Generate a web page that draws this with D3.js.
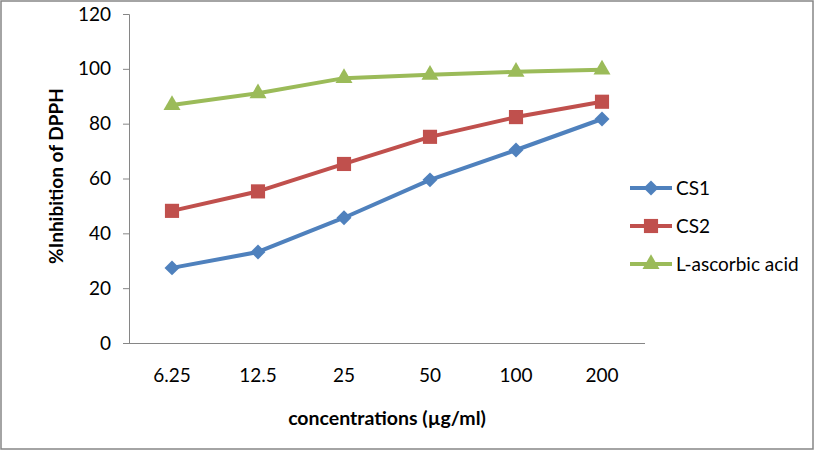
<!DOCTYPE html>
<html>
<head>
<meta charset="utf-8">
<script src="https://cdn.jsdelivr.net/npm/d3@7"></script>
<style>
  body { margin: 0; background: #fff; }
  text { font-family: Lato, "Open Sans", sans-serif; fill: #000; }
</style>
</head>
<body>
<svg id="chart" width="815" height="451"></svg>
<script>
// chart data
var categories = ['6.25', '12.5', '25', '50', '100', '200'];
var cs1 = [27.4, 33.2, 45.7, 59.5, 70.4, 81.7];
var cs2 = [48.2, 55.3, 65.3, 75.2, 82.4, 88.0];
var ascorbic = [86.8, 91.1, 96.6, 97.8, 98.9, 99.7];
var yTicks = [0, 20, 40, 60, 80, 100, 120];

var series = [
    {name: 'CS1', values: cs1, color: '#4F81BD', marker: 'diamond'},
    {name: 'CS2', values: cs2, color: '#C0504D', marker: 'square'},
    {name: 'L-ascorbic acid', values: ascorbic, color: '#9BBB59', marker: 'triangle'}
];

var svg = d3.select('#chart');

// outer frame
svg.append('rect')
    .attr('x', 1).attr('y', 1)
    .attr('width', 812).attr('height', 448)
    .attr('fill', 'none')
    .attr('stroke', '#868686')
    .attr('stroke-width', 1.5);

var xScale = d3.scaleBand()
    .domain(categories)
    .range([129, 645]);

var yScale = d3.scaleLinear()
    .domain([0, 120])
    .range([343, 14]);

// y axis
var yAxis = svg.append('g')
    .attr('transform', 'translate(129,0)')
    .call(d3.axisLeft(yScale).tickValues(yTicks).tickSize(6).tickPadding(12));
yAxis.select('.domain').attr('stroke', '#868686');
yAxis.selectAll('.tick line').attr('stroke', '#868686');
yAxis.selectAll('.tick text')
    .style('font-family', 'Lato, sans-serif')
    .style('font-size', '19px')
    .attr('fill', '#000');

// x axis
var xAxis = svg.append('g')
    .attr('transform', 'translate(0,343)')
    .call(d3.axisBottom(xScale).tickSize(0).tickPadding(26));
xAxis.select('.domain').attr('d', 'M123,0.5H645').attr('stroke', '#868686');
xAxis.selectAll('.tick text')
    .style('font-family', 'Lato, sans-serif')
    .style('font-size', '19px')
    .attr('fill', '#000');

// axis titles
svg.append('text')
    .attr('transform', 'translate(63,176) rotate(-90)')
    .attr('text-anchor', 'middle')
    .style('font-size', '19px')
    .style('font-weight', 'bold')
    .text('%Inhibition of DPPH');

svg.append('text')
    .attr('x', 387).attr('y', 425)
    .attr('text-anchor', 'middle')
    .style('font-size', '19.5px')
    .style('font-weight', 'bold')
    .text('concentrations (µg/ml)');

function markerPath(type) {
    if (type === 'square') return d3.symbol().type(d3.symbolSquare).size(200)();
    if (type === 'triangle') return d3.symbol().type(d3.symbolTriangle).size(125)();
    return d3.symbol().type(d3.symbolSquare).size(112)();
}
function markerRotate(type) {
    return type === 'diamond' ? ' rotate(45)' : '';
}

var cx = function(i) { return xScale(categories[i]) + xScale.bandwidth() / 2; };

var line = d3.line()
    .x(function(d, i) { return cx(i); })
    .y(function(d) { return yScale(d); });

series.forEach(function(s) {
    svg.append('path')
        .datum(s.values)
        .attr('d', line)
        .attr('fill', 'none')
        .attr('stroke', s.color)
        .attr('stroke-width', 4)
        .attr('stroke-linejoin', 'round');

    svg.selectAll('.m-' + s.marker)
        .data(s.values)
        .join('path')
        .attr('class', 'm-' + s.marker)
        .attr('d', markerPath(s.marker))
        .attr('transform', function(d, i) {
            return 'translate(' + cx(i) + ',' + yScale(d) + ')' + markerRotate(s.marker);
        })
        .attr('fill', s.color);
});

// legend
var legend = svg.append('g');
series.forEach(function(s, i) {
    var y = 188 + i * 38;
    legend.append('line')
        .attr('x1', 630).attr('x2', 672)
        .attr('y1', y).attr('y2', y)
        .attr('stroke', s.color)
        .attr('stroke-width', 4);
    legend.append('path')
        .attr('d', markerPath(s.marker))
        .attr('transform', 'translate(651,' + y + ')' + markerRotate(s.marker))
        .attr('fill', s.color);
    legend.append('text')
        .attr('x', 676).attr('y', y)
        .attr('dy', '0.35em')
        .style('font-size', '19px')
        .text(s.name);
});
</script>
</body>
</html>
